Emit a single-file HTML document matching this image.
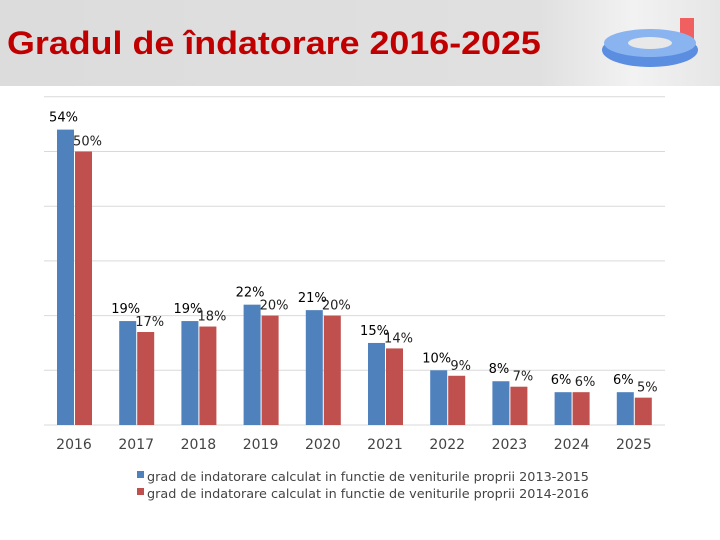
<!DOCTYPE html>
<html><head><meta charset="utf-8"><style>
body{margin:0;width:720px;height:540px;background:#fff;overflow:hidden;font-family:"Liberation Sans",sans-serif;position:relative}
#hdr{position:absolute;left:0;top:0;width:720px;height:86px;background:linear-gradient(90deg,#dcdcdc 0%,#e0e0e0 75%,#f2f2f2 88%,#e6e6e6 100%)}
#title{position:absolute;left:7px;top:25px;font-size:32px;font-weight:bold;color:#c00000;transform:scaleX(1.12);transform-origin:0 0;white-space:nowrap}
svg text{font-family:"DejaVu Sans",sans-serif}
</style></head><body>
<div id="hdr"></div>
<div id="title">Gradul de îndatorare 2016-2025</div>
<svg style="position:absolute;left:595px;top:10px" width="115" height="70">
<rect x="85" y="8" width="14" height="30" fill="#f06060"/>
<ellipse cx="55" cy="40" rx="48" ry="17" fill="#5b8de0"/>
<ellipse cx="55" cy="33" rx="46" ry="14" fill="#8ab4f0"/>
<ellipse cx="55" cy="33" rx="22" ry="6" fill="#e8e8e8"/>
</svg>
<svg id="chart" width="720" height="540" style="position:absolute;left:0;top:0"></svg>
<script>
const categories=["2016","2017","2018","2019","2020","2021","2022","2023","2024","2025"];
const series1=[54,19,19,22,21,15,10,8,6,6];
const series2=[50,17,18,20,20,14,9,7,6,5];
const gridTicks=[0,10,20,30,40,50,60];
const legendLabels=["grad de indatorare calculat in functie de veniturile proprii 2013-2015","grad de indatorare calculat in functie de veniturile proprii 2014-2016"];
const colors=["#4f81bd","#c0504d"];
const NS="http://www.w3.org/2000/svg";
const svg=document.getElementById('chart');
const base=425, pxPer=5.47, x0=74, step=62.2, bw=17;
const y=v=>base-v*pxPer;
const xc=i=>x0+i*step;
function mk(t,a){const e=document.createElementNS(NS,t);for(const k in a)e.setAttribute(k,a[k]);svg.appendChild(e);return e;}
gridTicks.forEach(t=>{const l=mk('line',{x1:44,x2:665,y1:y(t),y2:y(t),stroke:'#d9d9d9','stroke-width':1});

});
[series1,series2].forEach((s,si)=>{s.forEach((v,i)=>{
const bx=xc(i)+(si===0?-bw:1);
const r=mk('rect',{x:bx,y:y(v),width:bw,height:base-y(v),fill:colors[si]});


const t=mk('text',{x:bx+bw/2+(si===0?-2:4),y:y(v)-(si===0?8:6),'font-size':13,'text-anchor':'middle',fill:si===0?'#000':'#222'});
t.textContent=v+'%';


});});
categories.forEach((c,i)=>{const t=mk('text',{x:xc(i),y:449,'font-size':14,'text-anchor':'middle',fill:'#444'});t.textContent=c;

});
legendLabels.forEach((lb,i)=>{const ly=476+i*17;
const r=mk('rect',{x:137,y:ly-5,width:7,height:7,fill:colors[i]});


const t=mk('text',{x:147,y:ly+5,'font-size':12.8,fill:'#444'});t.textContent=lb;

});
</script>
</body></html>
